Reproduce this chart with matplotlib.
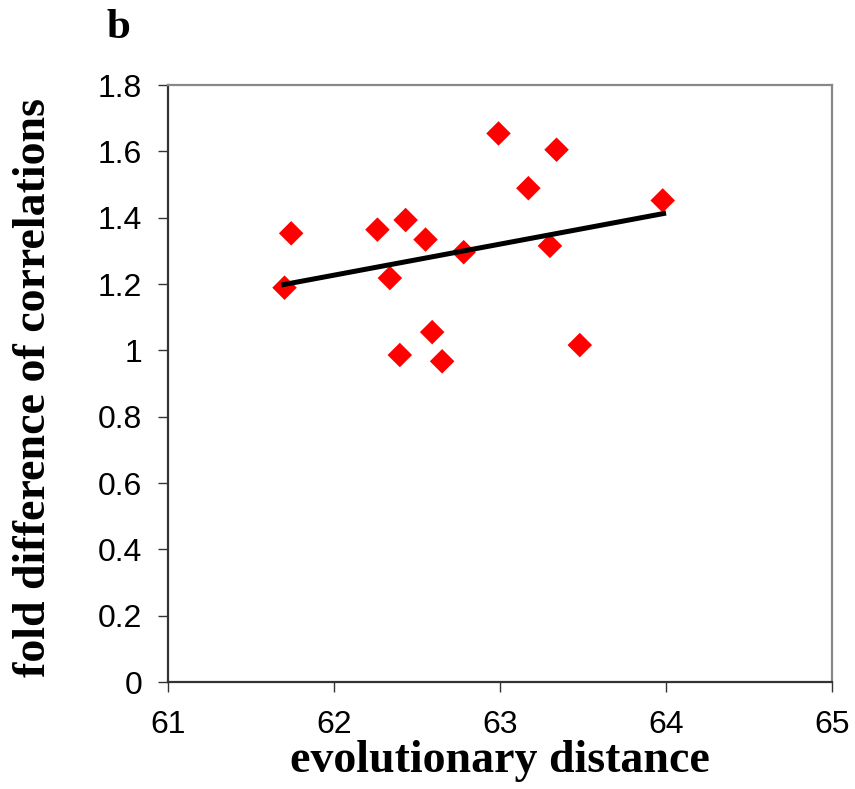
import numpy as np
import matplotlib
matplotlib.use("Agg")
import matplotlib.pyplot as plt

# data
evo_dist = [61.70, 61.74, 62.26, 62.335, 62.395, 62.43, 62.55, 62.59, 62.65,
            62.78, 62.99, 63.17, 63.30, 63.34, 63.48, 63.98]
fold_diff = [1.189, 1.353, 1.364, 1.218, 0.986, 1.393, 1.334, 1.055, 0.967,
             1.296, 1.654, 1.489, 1.315, 1.605, 1.016, 1.452]
trend_x = [61.68, 64.00]
trend_y = [1.197, 1.414]

xticks = [61, 62, 63, 64, 65]
yticks = [0, 0.2, 0.4, 0.6, 0.8, 1, 1.2, 1.4, 1.6, 1.8]
ytick_labels = ["0", "0.2", "0.4", "0.6", "0.8", "1", "1.2", "1.4", "1.6", "1.8"]

plt.rcParams["font.family"] = "Liberation Sans"

fig = plt.figure(figsize=(8.55, 7.89), dpi=100)
ax = fig.add_axes([0.197, 0.1356, 0.776, 0.7566])

ax.scatter(evo_dist, fold_diff, marker="D", s=12.5 ** 2, color="#ff0000",
           edgecolors="none", zorder=3)
ax.plot(trend_x, trend_y, color="black", lw=3.6, solid_capstyle="butt", zorder=4)

ax.set_xlim(61, 65)
ax.set_ylim(0, 1.8)
ax.set_xticks(xticks)
ax.set_yticks(yticks)
ax.set_yticklabels(ytick_labels)

ax.tick_params(axis="both", direction="out", length=7, width=1, color="#333333",
               labelsize=23)
ax.tick_params(axis="x", pad=13)
ax.tick_params(axis="y", pad=12)

for side in ["top", "right"]:
    ax.spines[side].set_color("#888888")
    ax.spines[side].set_linewidth(1.6)
for side in ["left", "bottom"]:
    ax.spines[side].set_color("#333333")
    ax.spines[side].set_linewidth(1.6)

ax.set_xlabel("evolutionary distance", fontfamily="Liberation Serif",
              fontweight="bold", fontsize=33)
ax.set_ylabel("fold difference of correlations", fontfamily="Liberation Serif",
              fontweight="bold", fontsize=33)
ax.xaxis.set_label_coords(0.5, -0.097)
ax.yaxis.set_label_coords(-0.171, 0.494)

fig.text(0.125, 0.988, "b", fontfamily="Liberation Serif", fontweight="bold",
         fontsize=31, ha="left", va="top")

fig.savefig("out.png", dpi=100)
